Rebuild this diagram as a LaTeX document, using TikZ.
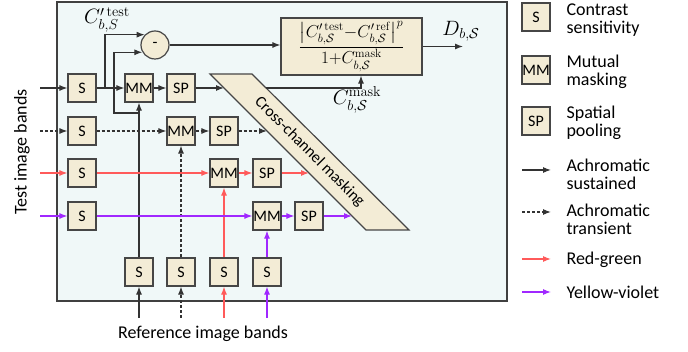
\documentclass[tikz,border=0pt]{standalone}
\usepackage{amsmath,amssymb}
\usepackage[no-math]{fontspec}
\setmainfont{Carlito}
\usepackage{tikz}
\usetikzlibrary{arrows.meta,calc}
\definecolor{PanelCyan}{RGB}{240,248,248}
\definecolor{BoxBeige}{RGB}{243,236,214}
\definecolor{BoxEdge}{RGB}{70,70,70}
\definecolor{RedGreen}{RGB}{255,90,90}
\definecolor{YellowViolet}{RGB}{160,40,255}

\tikzset{
  stage/.style={draw=BoxEdge,fill=BoxBeige,line width=1.2pt,minimum size=28pt,
    inner sep=0pt,font=\fontsize{16}{18}\selectfont},
  sust/.style={line width=1.1pt,black!80,-{Latex[length=8pt,width=6pt]}},
  trans/.style={sust,dash pattern=on 3pt off 2pt},
  rg/.style={sust,RedGreen},
  yv/.style={sust,YellowViolet},
  legtext/.style={anchor=west,align=left,font=\fontsize{18}{18}\selectfont},
  mathlbl/.style={font=\fontsize{20}{22}\selectfont}
}

\begin{document}
\begin{tikzpicture}[x=1pt,y=-1pt,>=Latex]
  \useasboundingbox (0,0) rectangle (688,352);
  \draw[fill=PanelCyan,draw=black!75,line width=1.1pt] (57,2) rectangle (507,301);
  % test bands
  \node[stage] (S1) at (82,88) {S};
  \node[stage] (S2) at (82,131) {S};
  \node[stage] (S3) at (82,173) {S};
  \node[stage] (S4) at (82,216) {S};
  \node[stage] (MM1) at (139,88) {MM};
  \node[stage] (SP1) at (181,88) {SP};
  \node[stage] (MM2) at (181,131) {MM};
  \node[stage] (SP2) at (224,131) {SP};
  \node[stage] (MM3) at (224,173) {MM};
  \node[stage] (SP3) at (267,173) {SP};
  \node[stage] (MM4) at (267,216) {MM};
  \node[stage] (SP4) at (309,216) {SP};
  % reference bands
  \node[stage] (R1) at (139,272) {S};
  \node[stage] (R2) at (181,272) {S};
  \node[stage] (R3) at (224,272) {S};
  \node[stage] (R4) at (267,272) {S};
  % cross-channel masking
  \coordinate (ccA) at (210,74);
  \coordinate (ccB) at (252,74);
  \coordinate (ccC) at (409,230);
  \coordinate (ccD) at (366,230);
  \draw[draw=BoxEdge,fill=BoxBeige,line width=1.2pt] (ccA) -- (ccB) -- (ccC) -- (ccD) -- cycle;
  \node[rotate=-45,font=\fontsize{16}{18}\selectfont] (ccText) at (309.5,152) {Cross-channel masking};
  \coordinate (cc1) at (224,88);
  \coordinate (cc2) at (267,131);
  \coordinate (cc3) at (309,173);
  \coordinate (cc4) at (352,216);
  \coordinate (ccOut) at (266,88);
  \coordinate (maskTurn) at (361,88);
  % difference and distance
  \node[stage,circle,minimum size=28pt] (minus) at (155,45) {-};
  \node[stage,minimum width=141pt,minimum height=57pt,font=\fontsize{18}{20}\selectfont] (distance) at (351.5,46.5)
    {$\dfrac{\bigl|C^{\prime\,\mathrm{test}}_{b,\mathcal{S}}{-}C^{\prime\,\mathrm{ref}}_{b,\mathcal{S}}\bigr|^{p}}{1{+}C^{\mathrm{mask}}_{b,\mathcal{S}}}$};
  \node[mathlbl] (testlbl) at (107,20) {$C^{\prime\,\mathrm{test}}_{b,S}$};
  \node[mathlbl] (masklbl) at (357,100) {$C^{\mathrm{mask}}_{b,\mathcal{S}}$};
  \coordinate (dOut) at (463,46.5);
  \node[mathlbl] (dlbl) at (461,31) {$D_{b,\mathcal{S}}$};
  % inputs
  \coordinate (in1) at (40,88);
  \coordinate (in2) at (40,131);
  \coordinate (in3) at (40,173);
  \coordinate (in4) at (40,216);
  \coordinate (rin1) at (139,318);
  \coordinate (rin2) at (181,318);
  \coordinate (rin3) at (224,318);
  \coordinate (rin4) at (267,318);
  \coordinate (tapS) at (105,88);
  \coordinate (tapR) at (139,113);
  % reference columns
  \draw[sust] (rin1) -- (R1);
  \draw[sust] (R1) -- (MM1);
  \draw[trans] (rin2) -- (R2);
  \draw[trans] (R2) -- (MM2);
  \draw[rg] (rin3) -- (R3);
  \draw[rg] (R3) -- (MM3);
  \draw[yv] (rin4) -- (R4);
  \draw[yv] (R4) -- (MM4);
  % test rows
  \draw[sust] (in1) -- (S1);
  \draw[sust] (S1) -- (MM1);
  \draw[sust] (MM1) -- (SP1);
  \draw[sust] (SP1) -- (cc1);
  \draw[trans] (in2) -- (S2);
  \draw[trans] (S2) -- (MM2);
  \draw[trans] (MM2) -- (SP2);
  \draw[trans] (SP2) -- (cc2);
  \draw[rg] (in3) -- (S3);
  \draw[rg] (S3) -- (MM3);
  \draw[rg] (MM3) -- (SP3);
  \draw[rg] (SP3) -- (cc3);
  \draw[yv] (in4) -- (S4);
  \draw[yv] (S4) -- (MM4);
  \draw[yv] (MM4) -- (SP4);
  \draw[yv] (SP4) -- (cc4);
  % to the distance box
  \draw[sust] (tapS) |- (minus.135);
  \draw[sust] (tapR) -- ++(-25,0) |- (minus.210);
  \draw[sust] (minus) -- (minus -| distance.west);
  \draw[sust] (ccOut) -- (maskTurn) -- (maskTurn |- distance.south);
  \draw[sust] (distance) -- (dOut);
  % axis texts
  \node[rotate=90,font=\fontsize{18}{18}\selectfont] (testbands) at (22,152) {Test image bands};
  \node[font=\fontsize{18}{18}\selectfont] (refbands) at (203,334) {Reference image bands};
  % legend
  \node[stage] (lgS) at (536,17) {S};
  \node[stage] (lgMM) at (536,70) {MM};
  \node[stage] (lgSP) at (536,121) {SP};
  \node[legtext] (lgSt) at (563,20) {Contrast\\sensitivity};
  \node[legtext] (lgMMt) at (563,72) {Mutual\\masking};
  \node[legtext] (lgSPt) at (563,123) {Spatial\\pooling};
  \coordinate (lg1a) at (522,170);
  \coordinate (lg1b) at (551,170);
  \coordinate (lg2a) at (522,212);
  \coordinate (lg2b) at (551,212);
  \coordinate (lg3a) at (522,259);
  \coordinate (lg3b) at (551,259);
  \coordinate (lg4a) at (522,292);
  \coordinate (lg4b) at (551,292);
  \draw[sust] (lg1a) -- (lg1b);
  \draw[trans] (lg2a) -- (lg2b);
  \draw[rg] (lg3a) -- (lg3b);
  \draw[yv] (lg4a) -- (lg4b);
  \node[legtext] (lg1t) at (563,174) {Achromatic\\sustained};
  \node[legtext] (lg2t) at (563,219) {Achromatic\\transient};
  \node[legtext] (lg3t) at (563,260) {Red-green};
  \node[legtext] (lg4t) at (563,292) {Yellow-violet};
\end{tikzpicture}
\end{document}
